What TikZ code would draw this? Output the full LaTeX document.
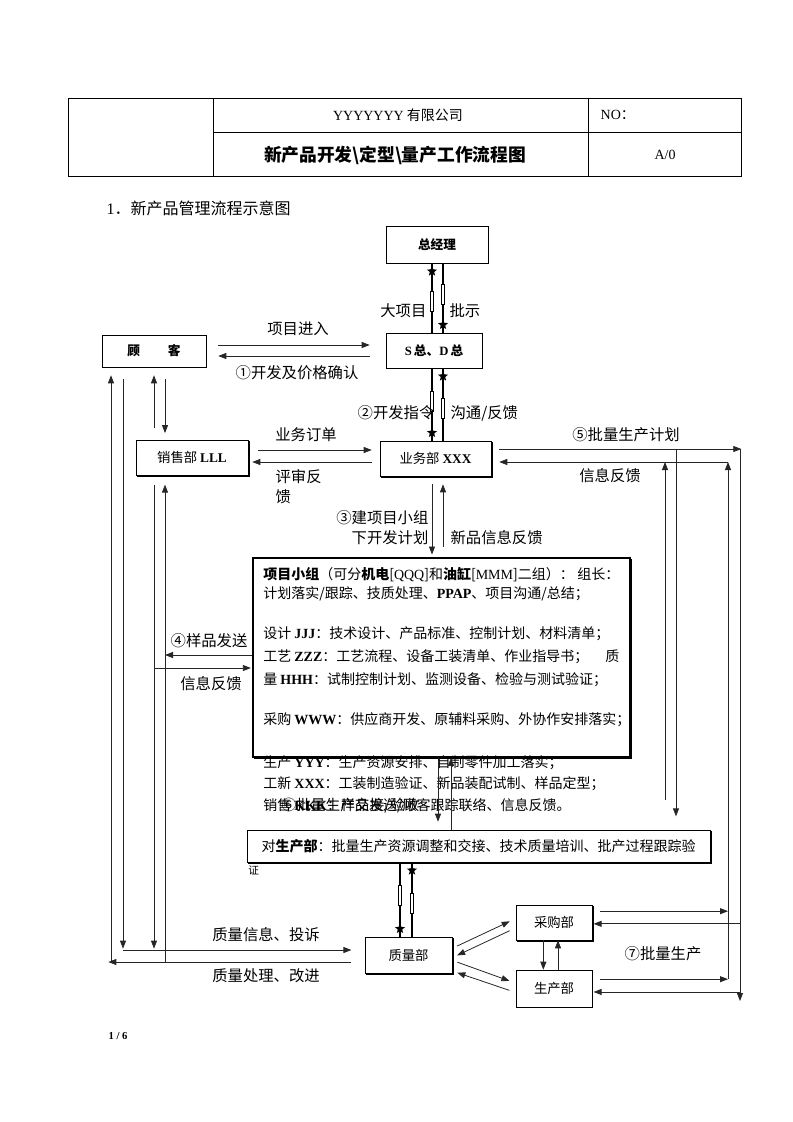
\documentclass[tikz,border=0pt]{standalone}
\usepackage{fontspec}
\setmainfont{Noto Sans CJK SC}
\newfontfamily\lat{Liberation Serif}
\usetikzlibrary{arrows.meta,shapes.geometric,shadows,decorations.markings}
\tikzset{
    flow-box/.style = {draw, thin, rectangle, inner sep=0pt, fill=white, font=\fontsize{10}{12}\selectfont},
    shadow-box/.style = {flow-box, copy shadow={shadow xshift=1.1pt, shadow yshift=-1.1pt}},
    flow-label/.style = {inner sep=1pt, font=\fontsize{11.5}{14}\selectfont},
    group-text/.style = {anchor=west, inner sep=0pt, font=\fontsize{10.5}{12}\selectfont},
    flow-arrow/.style = {draw=black!85, line width=0.6pt, -{Triangle[length=6pt,width=4.5pt]}},
    star-line/.style = {line width=1.2pt, decoration={markings,
        mark=at position 0.45 with {\draw[line width=0.5pt, fill=white] (-10,-1.8) rectangle (10,1.8);},
        mark=at position -6pt with {\node[star, star point ratio=2.3, fill=black, inner sep=0pt, minimum size=8pt] {};}},
        postaction={decorate}},
}
\begin{document}
\begin{tikzpicture}[x=0.75pt, y=-0.75pt]
\useasboundingbox (0,0) rectangle (793,1122);

\draw[thin] (68,98) rectangle (741,176);
\draw[thin] (213,98) -- (213,176) (588,98) -- (588,176) (213,132) -- (741,132);
\node[font=\fontsize{10.5}{12}\selectfont] (company) at (398,115) {{\lat YYYYYYY} 有限公司};
\node[anchor=west, font=\fontsize{10.5}{12}\selectfont] (number) at (596,115) {{\lat NO}：};
\node[font=\bfseries\fontsize{13.3}{15}\selectfont] (title) at (395,155) {新产品开发\textbackslash 定型\textbackslash 量产工作流程图};
\node[font=\fontsize{10.5}{12}\selectfont] (revision) at (665,155) {\lat A/0};
\node[anchor=west, font=\fontsize{12}{14}\selectfont] (caption) at (102,208) {{\lat 1}．新产品管理流程示意图};

\node[flow-box, minimum width=76.5pt, minimum height=27.75pt, font=\bfseries\fontsize{9.5}{11}\selectfont] (zjl) at (437,244.5) {总经理};
\node[flow-box, minimum width=72pt, minimum height=26.25pt, font=\bfseries\fontsize{9.5}{11}\selectfont] (sd) at (434,350.5) {{\lat S}\,总、{\lat D}\,总};
\node[flow-box, minimum width=78pt, minimum height=24pt, font=\bfseries\fontsize{9.5}{11}\selectfont] (guke) at (154,351) {顾\hspace{2.2em}客};
\node[shadow-box, minimum width=84pt, minimum height=26.25pt] (xs) at (192,457.5) {销售部 {\lat\bfseries LLL}};
\node[shadow-box, minimum width=83.25pt, minimum height=26.25pt] (yw) at (435.5,458.5) {业务部 {\lat\bfseries XXX}};
\node[shadow-box, line width=1.2pt, minimum width=282.75pt, minimum height=149.25pt] (xm) at (441.5,657.5) {};
\node[shadow-box, minimum width=347.25pt, minimum height=24pt, font=\fontsize{10.5}{12}\selectfont] (dsc) at (478.5,846)
    {对\textbf{生产部}：批量生产资源调整和交接、技术质量培训、批产过程跟踪验\hspace{4pt}};
\node[shadow-box, minimum width=65.25pt, minimum height=27pt] (zl) at (408.5,955) {质量部};
\node[shadow-box, minimum width=57pt, minimum height=26.25pt] (cg) at (554,922.5) {采购部};
\node[flow-box, minimum width=57pt, minimum height=27.75pt] (sc) at (554,988.5) {生产部};

\node[group-text] (g1) at (263,575) {\makebox[267pt][l]{\textbf{项目小组}（可分\textbf{机电}[{\lat QQQ}]和\textbf{油缸}[{\lat MMM}]二组）：\hfill 组长：}};
\node[group-text] (g2) at (263,594) {计划落实/跟踪、技质处理、{\lat\bfseries PPAP}、项目沟通/总结；};
\node[group-text] (g3) at (263,634) {设计 {\lat\bfseries JJJ}：技术设计、产品标准、控制计划、材料清单；};
\node[group-text] (g4) at (263,657) {\makebox[267pt][l]{工艺 {\lat\bfseries ZZZ}：工艺流程、设备工装清单、作业指导书；\hfill 质}};
\node[group-text] (g5) at (263,680) {量 {\lat\bfseries HHH}：试制控制计划、监测设备、检验与测试验证；};
\node[group-text] (g6) at (263,720) {采购 {\lat\bfseries WWW}：供应商开发、原辅料采购、外协作安排落实；};
\node[group-text] (g7) at (263,763) {生产 {\lat\bfseries YYY}：生产资源安排、自制零件加工落实；};
\node[group-text] (g8) at (263,784) {工新 {\lat\bfseries XXX}：工装制造验证、新品装配试制、样品定型；};
\node[group-text] (g9) at (263,806) {销售 {\lat\bfseries KKK}：样品发送/顾客跟踪联络、信息反馈。};
\node[group-text, font=\fontsize{8}{9}\selectfont] (g10) at (248,870) {证};

\coordinate (col-a) at (111,0);
\coordinate (col-b) at (123,0);
\coordinate (col-c) at (154,0);
\coordinate (col-d) at (165,0);
\coordinate (col-e) at (432,0);
\coordinate (col-f) at (443,0);
\coordinate (col-k) at (400,0);
\coordinate (col-l) at (412,0);
\coordinate (col-m) at (438,0);
\coordinate (col-n) at (451,0);
\coordinate (col-g) at (665,0);
\coordinate (col-h) at (676,0);
\coordinate (col-i) at (728,0);
\coordinate (col-j) at (740,0);
\coordinate (row-enter) at (0,345);
\coordinate (row-confirm) at (0,356);
\coordinate (row-order) at (0,450);
\coordinate (row-plan) at (0,449);
\coordinate (row-back) at (0,462);
\coordinate (row-send) at (0,655);
\coordinate (row-info) at (0,668);
\coordinate (row-top) at (0,800);
\coordinate (row-end) at (0,1001);
\coordinate (row-qa) at (0,950);
\coordinate (row-qb) at (0,962);
\coordinate (cg-out) at ([yshift=8.5pt]cg.east);
\coordinate (cg-in) at ([yshift=-1pt]cg.east);
\coordinate (sc-out) at ([yshift=7pt]sc.east);
\coordinate (sc-in) at ([yshift=-2.6pt]sc.east);

\draw[star-line] (sd.north -| col-e) -- (zjl.south -| col-e);
\draw[star-line] (zjl.south -| col-f) -- (sd.north -| col-f);
\draw[star-line] (sd.south -| col-e) -- (yw.north -| col-e);
\draw[star-line] (yw.north -| col-f) -- (sd.south -| col-f);
\draw[star-line] (dsc.south -| col-k) -- (zl.north -| col-k);
\draw[star-line] (zl.north -| col-l) -- (dsc.south -| col-l);

\draw[flow-arrow, shorten <=9pt, shorten >=12pt] (guke.east |- row-enter) -- (sd.west |- row-enter);
\draw[flow-arrow, shorten <=12pt, shorten >=9pt] (sd.west |- row-confirm) -- (guke.east |- row-confirm);
\draw[flow-arrow, shorten <=7.5pt, shorten >=6pt] (xs.east |- row-order) -- (yw.west |- row-order);
\draw[flow-arrow, shorten <=6pt, shorten >=3pt] (yw.west |- row-back) -- (xs.east |- row-back);
\draw[flow-arrow, shorten <=6pt, shorten >=2pt] (yw.south -| col-e) -- (xm.north -| col-e);
\draw[flow-arrow, shorten <=8pt, shorten >=6pt] (xm.north -| col-f) -- (yw.south -| col-f);
\draw[flow-arrow, shorten >=6pt] (xm.south -| col-m) -- (dsc.north -| col-m);
\draw[flow-arrow] (dsc.north -| col-n) -- (xm.south -| col-n);

\draw[flow-arrow, shorten <=9pt, shorten >=6pt] (xs.north -| col-c) -- (guke.south -| col-c);
\draw[flow-arrow, shorten <=9pt, shorten >=5pt] (guke.south -| col-d) -- (xs.north -| col-d);
\draw[flow-arrow, shorten <=9pt, shorten >=1pt] (guke.south -| col-b) -- (col-b |- row-qa);
\draw[flow-arrow, shorten >=10pt] (col-b |- row-qa) -- (zl.west |- row-qa);
\draw[flow-arrow, shorten <=10pt, shorten >=-2pt] (zl.west |- row-qb) -- (col-a |- row-qb);
\draw[flow-arrow, shorten >=6pt] (col-a |- row-qb) -- (guke.south -| col-a);
\draw[flow-arrow, shorten <=7pt, shorten >=1pt] (xs.south -| col-c) -- (col-c |- row-qa);
\draw[flow-arrow, shorten >=7pt] (col-d |- row-qb) -- (xs.south -| col-d);
\draw[flow-arrow] (xm.west |- row-send) -- (col-d |- row-send);
\draw[flow-arrow, shorten >=1pt] (col-c |- row-info) -- (xm.west |- row-info);

\draw[flow-arrow, shorten <=6pt, shorten >=-1pt] (yw.east |- row-plan) -- (col-j |- row-plan);
\draw[flow-arrow] (col-j |- row-plan) -- (col-j |- row-end);
\draw[flow-arrow, shorten >=10pt] (col-h |- row-plan) -- (dsc.north -| col-h);
\draw[flow-arrow] (col-g |- row-top) -- (col-g |- row-back);
\draw[flow-arrow] (col-i |- sc-out) -- (col-i |- row-back);
\draw[flow-arrow, shorten >=6pt] (col-i |- row-back) -- (yw.east |- row-back);

\draw[flow-arrow, shorten <=6pt] (cg-out) -- (cg-out -| col-i);
\draw[flow-arrow, shorten >=1pt] (cg-in -| col-j) -- (cg-in);
\draw[flow-arrow, shorten <=6pt] (sc-out) -- (sc-out -| col-i);
\draw[flow-arrow, shorten >=1pt] (sc-in -| col-j) -- (sc-in);

\draw[flow-arrow, shorten <=4pt, shorten >=5pt] ([yshift=5pt]zl.east) -- ([yshift=3pt]cg.west);
\draw[flow-arrow, shorten <=5pt, shorten >=4pt] ([yshift=-4pt]cg.west) -- ([yshift=-2pt]zl.east);
\draw[flow-arrow, shorten <=4pt, shorten >=5pt] ([yshift=-4pt]zl.east) -- ([yshift=4pt]sc.west);
\draw[flow-arrow, shorten <=5pt, shorten >=4pt] ([yshift=-3pt]sc.west) -- ([yshift=-12pt]zl.east);
\draw[flow-arrow] ([xshift=-8pt]cg.south) -- ([xshift=-8pt]sc.north);
\draw[flow-arrow] ([xshift=3pt]sc.north) -- ([xshift=3pt]cg.south);

\node[flow-label] (enter) at (298,329) {项目进入};
\node[flow-label] (confirm) at (297,373) {①开发及价格确认};
\node[flow-label, anchor=east] (big) at (428,311) {大项目};
\node[flow-label, anchor=west] (approve) at (448,311) {批示};
\node[flow-label, anchor=east] (order-cmd) at (436,413) {②开发指令};
\node[flow-label, anchor=west] (feedback) at (449,413) {沟通/反馈};
\node[flow-label] (order) at (306,435) {业务订单};
\node[flow-label, anchor=north west, align=left, font=\fontsize{11.5}{15}\selectfont] (review) at (274,468) {评审反\\馈};
\node[flow-label, anchor=east, align=right, font=\fontsize{11.5}{15}\selectfont] (team) at (430,528) {③建项目小组\\下开发计划};
\node[flow-label, anchor=west] (newinfo) at (449,538) {新品信息反馈};
\node[flow-label] (plan) at (626,435) {⑤批量生产计划};
\node[flow-label] (info-right) at (610,476) {信息反馈};
\node[flow-label] (sample) at (209,641) {④样品发送};
\node[flow-label] (info-left) at (211,684) {信息反馈};
\node[flow-label, anchor=west, font=\fontsize{11}{13}\selectfont] (handover) at (280,806) {⑥批量生产交接/验收};
\node[flow-label] (complain) at (266,935) {质量信息、投诉};
\node[flow-label] (improve) at (266,976) {质量处理、改进};
\node[flow-label] (mass) at (663,954) {⑦批量生产};
\node[font=\fontsize{8}{9}\selectfont] (page) at (118,1036) {\lat\bfseries 1 / 6};
\end{tikzpicture}
\end{document}
